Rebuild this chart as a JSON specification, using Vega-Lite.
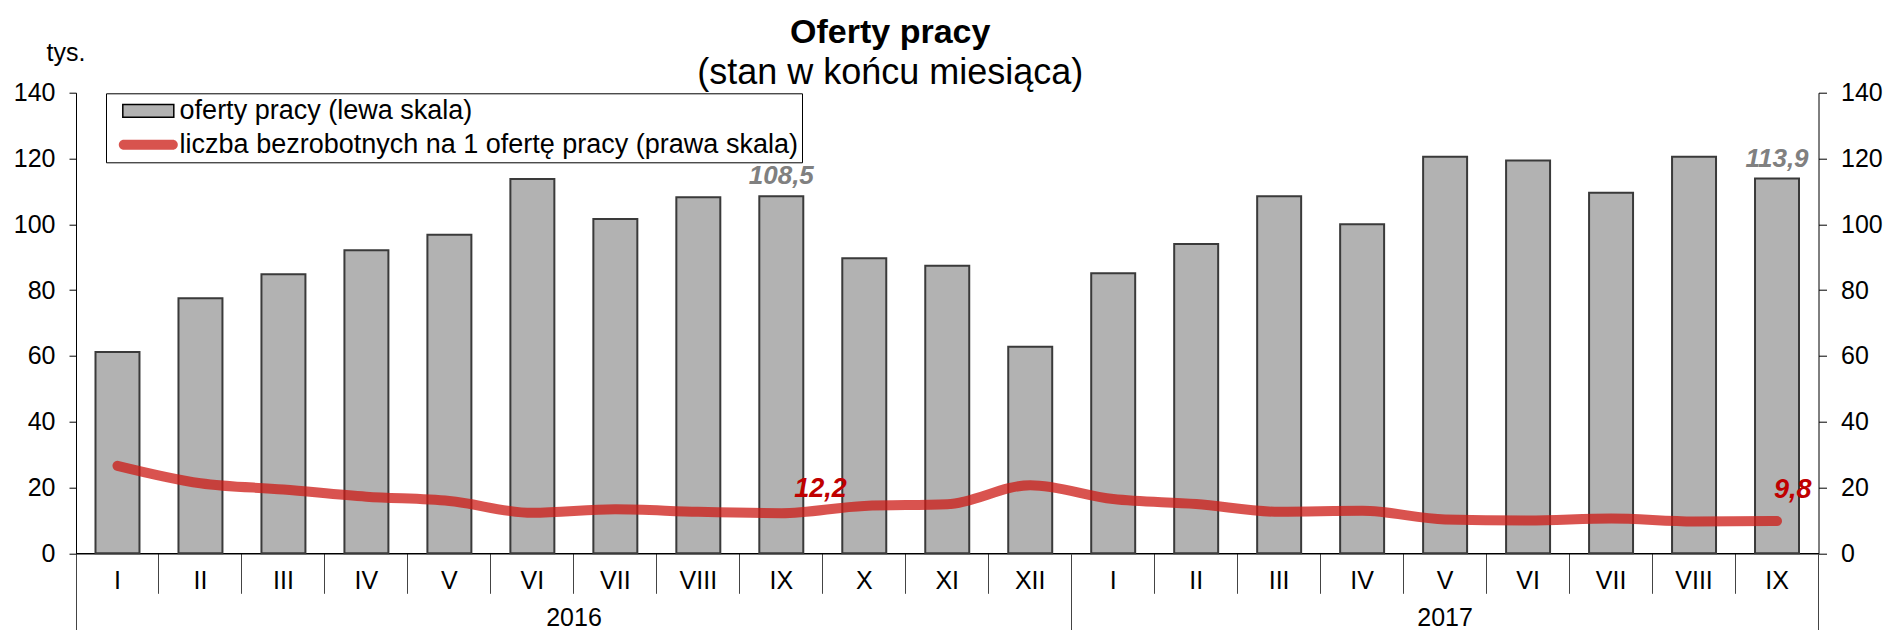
{
  "$schema": "https://vega.github.io/schema/vega-lite/v6.json",
  "width": 1742.5,
  "height": 460.6,
  "autosize": {"type": "none"},
  "padding": {"left": 76, "top": 92.7, "right": 69.5, "bottom": 76.7},
  "background": "white",
  "title": {
    "text": "Oferty pracy",
    "subtitle": "(stan w końcu miesiąca)",
    "anchor": "middle",
    "frame": "group",
    "dx": -57,
    "offset": -50,
    "font": "Liberation Sans",
    "fontSize": 34,
    "fontWeight": "bold",
    "color": "#000000",
    "subtitleFont": "Liberation Sans",
    "subtitleFontSize": 36,
    "subtitleColor": "#000000",
    "subtitlePadding": 6
  },
  "data": {
    "values": [
      {"m": "2016-I", "offers": 61.2, "ratio": 26.6},
      {"m": "2016-II", "offers": 77.5, "ratio": 21.3},
      {"m": "2016-III", "offers": 84.8, "ratio": 19.4},
      {"m": "2016-IV", "offers": 92.1, "ratio": 17.2},
      {"m": "2016-V", "offers": 96.8, "ratio": 15.9},
      {"m": "2016-VI", "offers": 113.8, "ratio": 12.3},
      {"m": "2016-VII", "offers": 101.6, "ratio": 13.4},
      {"m": "2016-VIII", "offers": 108.2, "ratio": 12.6},
      {"m": "2016-IX", "offers": 108.5, "ratio": 12.2},
      {"m": "2016-X", "offers": 89.7, "ratio": 14.4},
      {"m": "2016-XI", "offers": 87.4, "ratio": 14.9},
      {"m": "2016-XII", "offers": 62.8, "ratio": 20.7},
      {"m": "2017-I", "offers": 85.1, "ratio": 16.5},
      {"m": "2017-II", "offers": 94.0, "ratio": 15.0},
      {"m": "2017-III", "offers": 108.5, "ratio": 12.6},
      {"m": "2017-IV", "offers": 100.0, "ratio": 12.9},
      {"m": "2017-V", "offers": 120.5, "ratio": 10.3},
      {"m": "2017-VI", "offers": 119.4, "ratio": 10.0},
      {"m": "2017-VII", "offers": 109.6, "ratio": 10.6},
      {"m": "2017-VIII", "offers": 120.5, "ratio": 9.7},
      {"m": "2017-IX", "offers": 113.9, "ratio": 9.8}
    ]
  },
  "layer": [
    {
      "mark": {"type": "bar", "width": {"band": 0.53}, "fill": "#b2b2b2", "stroke": "#3a3a3a", "strokeWidth": 2},
      "encoding": {
        "x": {
          "field": "m", "type": "ordinal",
          "scale": {
            "type": "band", "paddingInner": 0, "paddingOuter": 0,
            "domain": ["2016-I","2016-II","2016-III","2016-IV","2016-V","2016-VI","2016-VII","2016-VIII","2016-IX","2016-X","2016-XI","2016-XII","2017-I","2017-II","2017-III","2017-IV","2017-V","2017-VI","2017-VII","2017-VIII","2017-IX"]
          },
          "axis": {
            "orient": "bottom", "title": null, "bandPosition": 0,
            "labelExpr": "split(datum.label, '-')[1]",
            "labelPadding": -25.3, "labelAngle": 0,
            "labelBaseline": "top", "labelFontSize": 25, "labelColor": "#000000",
            "labelOverlap": false, "labelBound": false, "labelFlush": false,
            "tickSize": 40, "tickColor": "#444444", "tickWidth": 1,
            "domain": true, "domainColor": "#000000", "domainWidth": 1.5, "grid": false
          }
        },
        "y": {
          "field": "offers", "type": "quantitative",
          "scale": {"domain": [0, 140], "nice": false, "zero": true},
          "axis": {
            "orient": "left", "values": [0, 20, 40, 60, 80, 100, 120, 140],
            "tickSize": 7, "tickColor": "#000000", "labelPadding": 14,
            "labelFontSize": 25, "labelColor": "#000000",
            "domainColor": "#000000", "grid": false,
            "title": "tys.", "titleAngle": 0, "titleX": -10.5, "titleY": -32,
            "titleAlign": "center", "titleBaseline": "alphabetic",
            "titleFontSize": 25, "titleFontWeight": "normal", "titleColor": "#000000"
          }
        },
        "opacity": {
          "datum": "oferty pracy (lewa skala)", "type": "ordinal",
          "scale": {
            "domain": ["oferty pracy (lewa skala)", "liczba bezrobotnych na 1 ofertę pracy (prawa skala)"],
            "range": [1, 0.75]
          },
          "legend": {
            "orient": "none", "legendX": 30, "legendY": 0.6,
            "title": null, "direction": "vertical",
            "padding": 4, "rowPadding": 5.9,
            "symbolSize": 400, "symbolStrokeWidth": 1.5,
            "symbolOffset": 24.8, "labelOffset": 17.8,
            "labelFontSize": 27, "labelColor": "#000000", "labelLimit": 2000,
            "strokeColor": "#000000", "fillColor": "#ffffff",
            "encoding": {
              "symbols": {
                "shape": {
                  "condition": {"test": "datum.value === 'oferty pracy (lewa skala)'", "value": "M-2.55,-0.635H2.55V0.635H-2.55Z"},
                  "value": "M-2.45,-0.5H2.45A0.5,0.5 0 0 1 2.45,0.5H-2.45A0.5,0.5 0 0 1 -2.45,-0.5Z"
                },
                "fill": {
                  "condition": {"test": "datum.value === 'oferty pracy (lewa skala)'", "value": "#b2b2b2"},
                  "value": "#cc1a14"
                },
                "stroke": {
                  "condition": {"test": "datum.value === 'oferty pracy (lewa skala)'", "value": "#000000"},
                  "value": "transparent"
                }
              }
            }
          }
        }
      }
    },
    {
      "mark": {"type": "line", "stroke": "#cc1a14", "strokeWidth": 10, "strokeCap": "round", "strokeJoin": "round", "interpolate": "monotone"},
      "encoding": {
        "x": {
          "field": "m", "type": "ordinal",
          "axis": {
            "orient": "bottom", "title": null,
            "values": ["2016-I", "2017-I"], "bandPosition": 0,
            "labelExpr": "split(datum.label, '-')[0]",
            "labelOffset": {"condition": {"test": "datum.value === '2016-I'", "value": 456.5}, "value": 331.9},
            "labelPadding": -25, "labelAngle": 0, "labelBaseline": "top",
            "labelFontSize": 25, "labelColor": "#000000",
            "labelOverlap": false, "labelBound": false, "labelFlush": false,
            "tickSize": 77, "tickColor": "#444444", "tickWidth": 1,
            "domain": false, "grid": false
          }
        },
        "y": {
          "field": "ratio", "type": "quantitative",
          "scale": {"domain": [0, 140], "nice": false, "zero": true},
          "axis": {
            "orient": "right", "values": [0, 20, 40, 60, 80, 100, 120, 140],
            "tickSize": 8, "tickColor": "#000000", "labelPadding": 14,
            "labelFontSize": 25, "labelColor": "#000000",
            "domainColor": "#000000", "grid": false, "title": null
          }
        },
        "opacity": {
          "datum": "liczba bezrobotnych na 1 ofertę pracy (prawa skala)", "type": "ordinal",
          "legend": {
            "orient": "none", "legendX": 30, "legendY": 0.6,
            "title": null, "direction": "vertical",
            "padding": 4, "rowPadding": 5.9,
            "symbolSize": 400, "symbolStrokeWidth": 1.5,
            "symbolOffset": 24.8, "labelOffset": 17.8,
            "labelFontSize": 27, "labelColor": "#000000", "labelLimit": 2000,
            "strokeColor": "#000000", "fillColor": "#ffffff",
            "encoding": {
              "symbols": {
                "shape": {
                  "condition": {"test": "datum.value === 'oferty pracy (lewa skala)'", "value": "M-2.55,-0.635H2.55V0.635H-2.55Z"},
                  "value": "M-2.45,-0.5H2.45A0.5,0.5 0 0 1 2.45,0.5H-2.45A0.5,0.5 0 0 1 -2.45,-0.5Z"
                },
                "fill": {
                  "condition": {"test": "datum.value === 'oferty pracy (lewa skala)'", "value": "#b2b2b2"},
                  "value": "#cc1a14"
                },
                "stroke": {
                  "condition": {"test": "datum.value === 'oferty pracy (lewa skala)'", "value": "#000000"},
                  "value": "transparent"
                }
              }
            }
          }
        }
      }
    },
    {
      "transform": [{"filter": "datum.m === '2016-IX' || datum.m === '2017-IX'"}],
      "mark": {"type": "text", "font": "Liberation Sans", "fontSize": 26, "fontWeight": "bold", "fontStyle": "italic", "color": "#808080", "align": "center", "baseline": "alphabetic", "dy": -12},
      "encoding": {
        "x": {
          "field": "m", "type": "ordinal",
          "axis": {
            "orient": "bottom", "title": null, "values": ["2017-IX"], "bandPosition": 1,
            "labels": false, "domain": false, "grid": false,
            "tickSize": 77, "tickColor": "#444444", "tickWidth": 1
          }
        },
        "y": {"field": "offers", "type": "quantitative", "axis": null},
        "text": {"field": "offers", "type": "quantitative", "format": ".1f"}
      }
    },
    {
      "transform": [{"filter": "datum.m === '2016-IX'"}],
      "mark": {"type": "text", "font": "Liberation Sans", "fontSize": 27, "fontWeight": "bold", "fontStyle": "italic", "color": "#c00000", "align": "left", "baseline": "alphabetic", "dx": 13, "dy": -16},
      "encoding": {
        "x": {"field": "m", "type": "ordinal", "axis": null},
        "y": {"field": "ratio", "type": "quantitative", "axis": null},
        "text": {"field": "ratio", "type": "quantitative", "format": ".1f"}
      }
    },
    {
      "transform": [{"filter": "datum.m === '2017-IX'"}],
      "mark": {"type": "text", "font": "Liberation Sans", "fontSize": 27, "fontWeight": "bold", "fontStyle": "italic", "color": "#c00000", "align": "left", "baseline": "alphabetic", "dx": -3, "dy": -23},
      "encoding": {
        "x": {"field": "m", "type": "ordinal", "axis": null},
        "y": {"field": "ratio", "type": "quantitative", "axis": null},
        "text": {"field": "ratio", "type": "quantitative", "format": ".1f"}
      }
    }
  ],
  "resolve": {"axis": {"x": "independent", "y": "independent"}},
  "config": {
    "view": {"stroke": null},
    "font": "Liberation Sans",
    "axis": {"labelFont": "Liberation Sans", "titleFont": "Liberation Sans"},
    "legend": {"labelFont": "Liberation Sans"},
    "locale": {"number": {"decimal": ",", "thousands": " ", "grouping": [3], "currency": ["", " zł"]}}
  }
}
